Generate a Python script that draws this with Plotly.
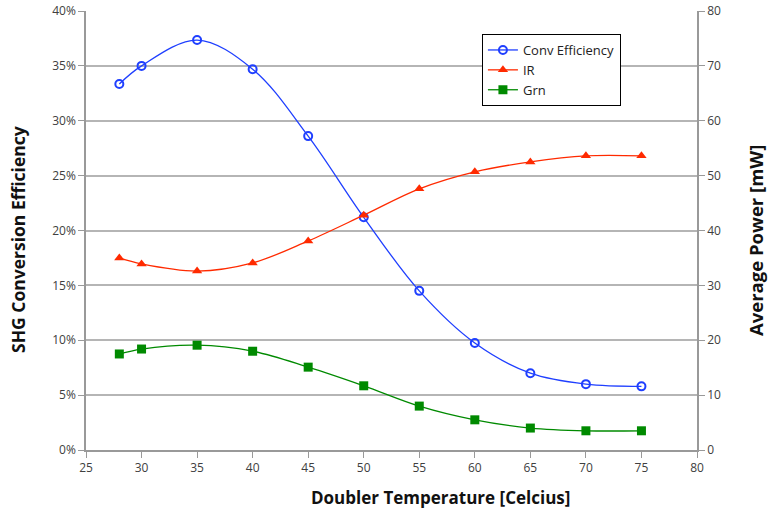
import plotly.graph_objects as go

temps = [28, 30, 35, 40, 45, 50, 55, 60, 65, 70, 75]
conv_eff = [0.3335, 0.350, 0.3735, 0.347, 0.286, 0.212, 0.145, 0.0975, 0.070, 0.060, 0.058]
ir_power = [35.0, 33.9, 32.6, 34.1, 38.1, 42.8, 47.6, 50.7, 52.5, 53.6, 53.6]
grn_power = [17.5, 18.4, 19.1, 18.0, 15.1, 11.7, 8.0, 5.5, 4.0, 3.5, 3.5]

font = "Open Sans, Noto Sans, Liberation Sans, sans-serif"

fig = go.Figure()
fig.add_trace(go.Scatter(
    x=temps, y=conv_eff, name="Conv Efficiency", mode="lines+markers",
    line=dict(color="#1f3fff", width=1.3, shape="spline"),
    marker=dict(symbol="circle-open", size=8, color="#1f3fff", line=dict(width=2)),
    yaxis="y"))
fig.add_trace(go.Scatter(
    x=temps, y=ir_power, name="IR", mode="lines+markers",
    line=dict(color="#ff2a00", width=1.3, shape="spline"),
    marker=dict(symbol="triangle-up", size=9, color="#ff2a00"),
    yaxis="y2"))
fig.add_trace(go.Scatter(
    x=temps, y=grn_power, name="Grn", mode="lines+markers",
    line=dict(color="#008a00", width=1.3, shape="spline"),
    marker=dict(symbol="square", size=9, color="#008a00"),
    yaxis="y2"))

axis_common = dict(showline=True, linecolor="#999999", linewidth=1.5,
                   ticks="outside", ticklen=6, tickcolor="#999999",
                   zeroline=False, automargin=False, ticklabeloverflow="allow")

fig.update_layout(
    width=769, height=512,
    margin=dict(l=86, r=72, t=11, b=62, autoexpand=False),
    paper_bgcolor="white", plot_bgcolor="white",
    font=dict(family=font, size=12, color="#404040"),
    showlegend=True,
    legend=dict(x=0.648, y=0.9476, xanchor="left", yanchor="top",
                bgcolor="white", bordercolor="black", borderwidth=1,
                font=dict(size=13, color="#222222"), tracegroupgap=0,
                itemwidth=30),
    xaxis=dict(range=[25, 80], dtick=5, tick0=25, showgrid=False, **axis_common),
    yaxis=dict(range=[0, 0.40], dtick=0.05, tickformat=".0%",
               showgrid=True, gridcolor="#b5b5b5", gridwidth=1.5, **axis_common),
    yaxis2=dict(range=[0, 80], dtick=10, overlaying="y", side="right",
                showgrid=False, **axis_common),
    annotations=[
        dict(text="<b>Doubler Temperature [Celcius]</b>", xref="paper", yref="paper",
             x=(440 - 86) / 611, y=-(497 - 450) / 439, xanchor="center", yanchor="middle",
             showarrow=False, font=dict(family=font, size=17, color="#111111")),
        dict(text="<b>SHG Conversion Efficiency</b>", xref="paper", yref="paper",
             x=-(86 - 18) / 611, y=(450 - 240) / 439, xanchor="center", yanchor="middle",
             textangle=-90, showarrow=False, font=dict(family=font, size=17.5, color="#111111")),
        dict(text="<b>Average Power [mW]</b>", xref="paper", yref="paper",
             x=1 + (756 - 697) / 611, y=(450 - 241) / 439, xanchor="center", yanchor="middle",
             textangle=-90, showarrow=False, font=dict(family=font, size=18.5, color="#111111")),
    ],
)

fig.write_html("out.html", config={"displayModeBar": False},
               post_script="document.body.style.margin='0';")
